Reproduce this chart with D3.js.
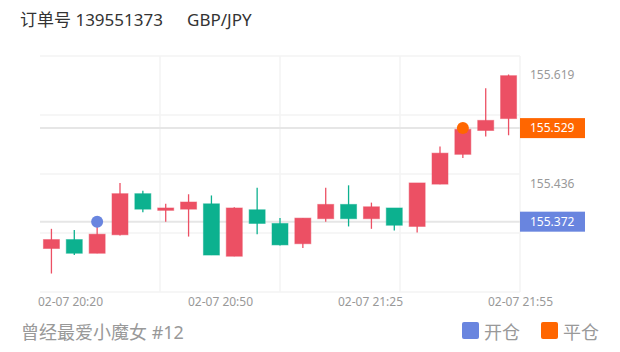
<!DOCTYPE html>
<html lang="zh">
<head>
    <meta charset="UTF-8">
    <title>订单号 139551373 GBP/JPY</title>
    <script src="https://d3js.org/d3.v7.min.js"></script>
    <style>
        body { margin: 0; background: #fff; }
        text { font-family: "Noto Sans", "Noto Sans CJK SC", sans-serif; }
    </style>
</head>
<body>
<div id="chart"></div>

<script>
    // candle data, one entry per bar
    const open  = [155.327, 155.342, 155.319, 155.350, 155.419, 155.391, 155.393, 155.402, 155.314, 155.392, 155.369,
                   155.335, 155.377, 155.401, 155.377, 155.395, 155.364, 155.435, 155.485, 155.525, 155.545];
    const close = [155.342, 155.319, 155.351, 155.419, 155.393, 155.395, 155.405, 155.316, 155.395, 155.369, 155.333,
                   155.378, 155.401, 155.377, 155.397, 155.366, 155.437, 155.487, 155.527, 155.542, 155.617];
    const high  = [155.360, 155.358, 155.372, 155.437, 155.424, 155.402, 155.418, 155.416, 155.396, 155.429, 155.378,
                   155.378, 155.429, 155.433, 155.404, 155.395, 155.437, 155.498, 155.529, 155.596, 155.619];
    const low   = [155.285, 155.316, 155.319, 155.349, 155.388, 155.372, 155.347, 155.316, 155.314, 155.351, 155.332,
                   155.328, 155.372, 155.364, 155.360, 155.357, 155.354, 155.435, 155.479, 155.515, 155.517];

    const xTickLabels = ["02-07 20:20", "02-07 20:50", "02-07 21:25", "02-07 21:55"];
    const yTickLabels = [155.619, 155.436];

    // open / close position markers
    const openTrade  = {index: 2, price: 155.372};
    const closeTrade = {index: 18, price: 155.529};

    const upColor = "#ec5064";
    const downColor = "#0cb18f";
    const openColor = "#6985df";
    const closeColor = "#ff6600";

    const W = 620, H = 352;
    const plot = {left: 40, right: 520, top: 56, bottom: 292};

    const svg = d3.select('#chart')
        .append('svg')
        .attr('width', W)
        .attr('height', H);

    const x = d3.scaleBand()
        .domain(d3.range(open.length))
        .range([plot.left, plot.right])
        .paddingInner(0.3)
        .paddingOuter(0.15);

    const y = d3.scaleLinear()
        .domain([155.254, 155.650])
        .range([plot.bottom, plot.top]);

    const xLabel = d3.scalePoint()
        .domain(xTickLabels)
        .range([70, 520]);

    // title
    svg.append('text')
        .attr('x', 20).attr('y', 26)
        .attr('font-size', 17).attr('fill', '#333')
        .text('订单号 139551373');
    svg.append('text')
        .attr('x', 187).attr('y', 26)
        .attr('font-size', 17).attr('fill', '#333')
        .text('GBP/JPY');

    // grid
    const grid = svg.append('g');
    const [d0, d1] = y.domain();
    grid.selectAll('line.h')
        .data(d3.range(5).map(i => d0 + (d1 - d0) * i / 4))
        .join('line')
        .attr('x1', plot.left).attr('x2', plot.right)
        .attr('y1', d => y(d)).attr('y2', d => y(d))
        .attr('stroke', '#f3f3f3').attr('stroke-width', 1.5);
    grid.selectAll('line.v')
        .data([1, 2, 3, 4])
        .join('line')
        .attr('x1', d => plot.left + (plot.right - plot.left) * d / 4)
        .attr('x2', d => plot.left + (plot.right - plot.left) * d / 4)
        .attr('y1', plot.top).attr('y2', plot.bottom)
        .attr('stroke', '#f3f3f3').attr('stroke-width', 1.5);

    // price lines for entry / exit
    svg.selectAll('line.price')
        .data([openTrade, closeTrade])
        .join('line')
        .attr('x1', plot.left).attr('x2', plot.right)
        .attr('y1', d => y(d.price)).attr('y2', d => y(d.price))
        .attr('stroke', '#e6e6e6').attr('stroke-width', 2);

    // candles
    const candles = svg.append('g')
        .selectAll('g')
        .data(open.map((o, i) => ({i, o, c: close[i], h: high[i], l: low[i]})))
        .join('g');

    candles.append('line')
        .attr('x1', d => x(d.i) + x.bandwidth() / 2)
        .attr('x2', d => x(d.i) + x.bandwidth() / 2)
        .attr('y1', d => y(d.h))
        .attr('y2', d => y(d.l))
        .attr('stroke', d => d.c >= d.o ? upColor : downColor)
        .attr('stroke-width', 1.3);

    candles.append('rect')
        .attr('x', d => x(d.i))
        .attr('width', x.bandwidth())
        .attr('y', d => y(Math.max(d.o, d.c)))
        .attr('height', d => Math.max(1.5, Math.abs(y(d.o) - y(d.c))))
        .attr('fill', d => d.c >= d.o ? upColor : downColor)
        .attr('stroke', d => d.c >= d.o ? upColor : downColor)
        .attr('stroke-opacity', 0.5)
        .attr('stroke-width', 1);

    // markers
    svg.selectAll('circle.mark')
        .data([{...openTrade, color: openColor}, {...closeTrade, color: closeColor}])
        .join('circle')
        .attr('cx', d => x(d.index) + x.bandwidth() / 2)
        .attr('cy', d => y(d.price))
        .attr('r', 6)
        .attr('fill', d => d.color);

    // y labels
    svg.append('g')
        .attr('transform', `translate(${plot.right},0)`)
        .call(d3.axisRight(y).tickValues(yTickLabels).tickSize(0).tickPadding(10).tickFormat(d3.format('.3f')))
        .call(g => g.select('.domain').remove())
        .call(g => g.selectAll('text').attr('font-size', 12).attr('fill', '#999').attr('font-family', null));

    // price tags
    const tags = svg.selectAll('g.tag')
        .data([{...openTrade, color: openColor}, {...closeTrade, color: closeColor}])
        .join('g');
    tags.append('rect')
        .attr('x', plot.right)
        .attr('y', d => y(d.price) - 10)
        .attr('width', 65).attr('height', 20)
        .attr('fill', d => d.color);
    tags.append('text')
        .attr('x', plot.right + 10)
        .attr('y', d => y(d.price))
        .attr('dy', '0.35em')
        .attr('font-size', 12).attr('fill', '#fff')
        .text(d => d3.format('.3f')(d.price));

    // x labels
    svg.append('g')
        .attr('transform', `translate(0,${plot.bottom})`)
        .call(d3.axisBottom(xLabel).tickSize(0).tickPadding(5))
        .call(g => g.select('.domain').remove())
        .call(g => g.selectAll('text').attr('font-size', 12).attr('fill', '#999').attr('font-family', null));

    // footer
    svg.append('text')
        .attr('x', 21).attr('y', 339)
        .attr('font-size', 18).attr('fill', '#999')
        .text('曾经最爱小魔女 #12');

    const legend = svg.append('g');
    const legendItems = [{name: '开仓', color: openColor, x: 462}, {name: '平仓', color: closeColor, x: 541}];
    legend.selectAll('rect')
        .data(legendItems)
        .join('rect')
        .attr('x', d => d.x).attr('y', 322)
        .attr('width', 17).attr('height', 17)
        .attr('rx', 2)
        .attr('fill', d => d.color);
    legend.selectAll('text')
        .data(legendItems)
        .join('text')
        .attr('x', d => d.x + 22).attr('y', 339)
        .attr('font-size', 18).attr('fill', '#999')
        .text(d => d.name);
</script>

</body>
</html>
